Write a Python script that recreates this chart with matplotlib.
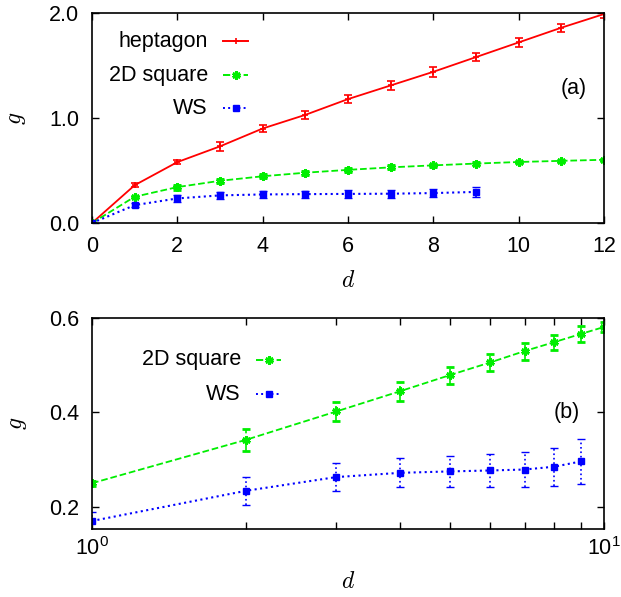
import numpy as np
import matplotlib
matplotlib.use("Agg")
import matplotlib.pyplot as plt
from matplotlib.ticker import FixedLocator, FuncFormatter, NullFormatter

plt.rcParams['font.family'] = ['Liberation Sans', 'DejaVu Sans']
plt.rcParams['mathtext.fontset'] = 'cm'

# data
d_hep = [0, 1, 2, 3, 4, 5, 6, 7, 8, 9, 10, 11, 12]
g_hep = [0.0, 0.36, 0.58, 0.73, 0.90, 1.03, 1.18, 1.31, 1.44, 1.58, 1.72, 1.86, 1.99]
e_hep = [0.0, 0.02, 0.02, 0.045, 0.035, 0.035, 0.04, 0.04, 0.045, 0.04, 0.04, 0.04, 0.04]

d_sq = [0, 1, 2, 3, 4, 5, 6, 7, 8, 9, 10, 11, 12]
g_sq = [0.0, 0.25, 0.342, 0.402, 0.445, 0.479, 0.506, 0.53, 0.549, 0.566, 0.581, 0.592, 0.602]
e_sq = [0.0, 0.005, 0.023, 0.02, 0.02, 0.018, 0.018, 0.018, 0.016, 0.016, 0.01, 0.01, 0.01]

d_ws = [0, 1, 2, 3, 4, 5, 6, 7, 8, 9]
g_ws = [0.0, 0.17, 0.234, 0.263, 0.272, 0.275, 0.277, 0.279, 0.285, 0.296]
e_ws = [0.0, 0.02, 0.03, 0.03, 0.031, 0.033, 0.035, 0.037, 0.04, 0.047]

red = '#ff0000'
green = '#00ee00'
blue = '#0000ff'
FS = 15.5

fig = plt.figure(figsize=(6.21, 5.97), dpi=100)
ax1 = fig.add_axes([92/621, 1-223/597, 512/621, 210/597])
ax2 = fig.add_axes([92/621, 1-529/597, 512/621, 211/597])

def style(ax):
    ax.tick_params(direction='in', top=True, right=True, labelsize=FS, length=5, width=1, pad=9)
    ax.tick_params(which='minor', direction='in', top=True, right=True, length=3, width=1)
    for s in ax.spines.values():
        s.set_linewidth(1.2)

def key(ax, y, label, color, ls, marker, ms, mew, xt, x0, x1):
    # gnuplot-like key: right-aligned text, short sample line after it
    ax.text(xt, y, label, transform=ax.transAxes, ha='right', va='center', fontsize=FS)
    ax.plot([x0, x1], [y, y], transform=ax.transAxes, color=color, ls=ls, lw=1.4, clip_on=False)
    ax.plot([(x0 + x1) / 2], [y], transform=ax.transAxes, color=color, marker=marker,
            ms=ms, mew=mew, clip_on=False)

def ebar(ax, x, y, e, color, ls, lw, marker, ms, mew):
    eb = ax.errorbar(x, y, yerr=e, color=color, ls=ls, lw=lw, marker=marker, ms=ms,
                     mew=mew, capsize=3, elinewidth=1.2)
    # gnuplot draws error bars in the line's dash pattern
    eb[2][0].set_linestyle(ls)
    return eb

ebar(ax1, d_hep, g_hep, e_hep, red, '-', 1.3, '+', 5, 1.2)
ebar(ax1, d_sq, g_sq, e_sq, green, '--', 1.3, (6, 2, 0), 6, 2)
ebar(ax1, d_ws, g_ws, e_ws, blue, ':', 1.5, 's', 4, 1)
ax1.set_xlim(0, 12)
ax1.set_ylim(0, 2)
ax1.set_xticks([0, 2, 4, 6, 8, 10, 12])
ax1.set_yticks([0, 1, 2])
ax1.yaxis.set_major_formatter(FuncFormatter(lambda v, p: '%.1f' % v))
ax1.set_xlabel('$d$', fontsize=17, labelpad=10)
ax1.set_ylabel('$g$', fontsize=17, labelpad=15)
ax1.text(11.3, 1.28, '(a)', fontsize=FS, ha='center', va='center')
style(ax1)
key(ax1, 1 - (41 - 13) / 210, 'heptagon', red, '-', '+', 5, 1.2, 116/512, 131/512, 156/512)
key(ax1, 1 - (75 - 13) / 210, '2D square', green, '--', (6, 2, 0), 6, 2, 116/512, 131/512, 156/512)
key(ax1, 1 - (108 - 13) / 210, 'WS', blue, ':', 's', 4, 1, 116/512, 131/512, 156/512)

n2 = 10
ebar(ax2, d_sq[1:n2+1], g_sq[1:n2+1], e_sq[1:n2+1], green, '--', 1.3, (6, 2, 0), 6, 2)
ebar(ax2, d_ws[1:], g_ws[1:], e_ws[1:], blue, ':', 1.5, 's', 4, 1)
ax2.set_xscale('log')
ax2.set_xlim(1, 10)
ax2.set_ylim(0.153, 0.6)
ax2.set_yticks([0.2, 0.4, 0.6])
ax2.yaxis.set_major_formatter(FuncFormatter(lambda v, p: '%.1f' % v))
ax2.xaxis.set_major_locator(FixedLocator([1, 10]))
ax2.xaxis.set_major_formatter(FuncFormatter(lambda v, p: r'$\mathregular{10^{%d}}$' % int(round(np.log10(v)))))
ax2.xaxis.set_minor_locator(FixedLocator([2, 3, 4, 5, 6, 7, 8, 9]))
ax2.xaxis.set_minor_formatter(NullFormatter())
ax2.set_xlabel('$d$', fontsize=17, labelpad=8)
ax2.set_ylabel('$g$', fontsize=17, labelpad=15)
ax2.text(8.47, 0.4, '(b)', fontsize=FS, ha='center', va='center')
style(ax2)
ax2.tick_params(axis='x', which='both', pad=6)
ax2.tick_params(which='minor', length=5)
key(ax2, 1 - (360 - 318) / 211, '2D square', green, '--', (6, 2, 0), 6, 2, 149/512, 164/512, 189/512)
key(ax2, 1 - (394 - 318) / 211, 'WS', blue, ':', 's', 4, 1, 149/512, 164/512, 189/512)

fig.savefig('out.png', dpi=100)
